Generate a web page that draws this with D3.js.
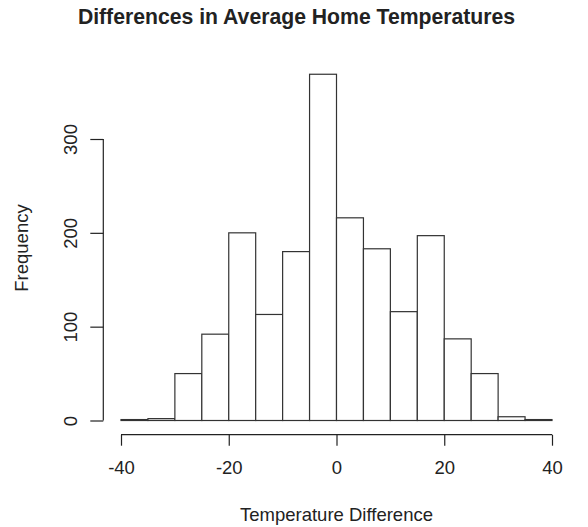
<!DOCTYPE html>
<html>
<head>
<meta charset="utf-8">
<script src="https://cdn.jsdelivr.net/npm/d3@7"></script>
<style>
  body { margin: 0; background: #fff; }
  text { font-family: "Liberation Sans", Arial, sans-serif; fill: #222; }
</style>
</head>
<body>
<div id="chart"></div>
<script>
// histogram data : bin edges (lower bound) and counts
var binStart = [-40, -35, -30, -25, -20, -15, -10, -5, 0, 5, 10, 15, 20, 25, 30, 35];
var counts = [1, 2, 50, 92, 200, 113, 180, 369, 216, 183, 116, 197, 87, 50, 4, 1];
var binWidth = 5;
var xTicks = [-40, -20, 0, 20, 40];
var yTicks = [0, 100, 200, 300];

var width = 588, height = 527;

var svg = d3.select("#chart").append("svg").attr("width", width).attr("height", height);

var x = d3.scaleLinear().domain([-40, 40]).range([121, 552]);
var y = d3.scaleLinear().domain([0, 300]).range([420.5, 139]);

var data = binStart.map(function(d, i) { return {x0: d, x1: d + binWidth, n: counts[i]}; });

// plain hyphen for negatives, like R
var fmt = function(d) { return String(d); };

// bars
svg.append("g").selectAll("rect")
  .data(data)
  .enter().append("rect")
    .attr("x", function(d) { return x(d.x0); })
    .attr("y", function(d) { return y(d.n); })
    .attr("width", function(d) { return x(d.x1) - x(d.x0); })
    .attr("height", function(d) { return y(0) - y(d.n); })
    .attr("fill", "white")
    .attr("stroke", "#333")
    .attr("stroke-width", 1.2);

// x axis
var gx = svg.append("g").attr("transform", "translate(0,434.7)")
  .call(d3.axisBottom(x).tickValues(xTicks).tickSize(11).tickPadding(15).tickFormat(fmt));
gx.select(".domain").attr("d", "M" + x(-40) + ",0H" + x(40)).attr("stroke", "#222").attr("stroke-width", 1.2);
gx.selectAll(".tick line").attr("stroke", "#222").attr("stroke-width", 1.2);
gx.selectAll(".tick text").attr("font-size", "18.5px").attr("font-family", "Liberation Sans, Arial, sans-serif").attr("fill", "#222");

// y axis
var gy = svg.append("g").attr("transform", "translate(103.3,0)")
  .call(d3.axisLeft(y).tickValues(yTicks).tickSize(13).tickPadding(0).tickFormat(fmt));
gy.select(".domain").attr("d", "M0," + y(0) + "V" + y(300)).attr("stroke", "#222").attr("stroke-width", 1.2);
gy.selectAll(".tick line").attr("stroke", "#222").attr("stroke-width", 1.2);
gy.selectAll(".tick text")
  .attr("x", null).attr("dy", null)
  .attr("transform", "translate(-26,0) rotate(-90)")
  .attr("text-anchor", "middle")
  .attr("font-size", "18.5px").attr("font-family", "Liberation Sans, Arial, sans-serif").attr("fill", "#222");

// title + axis labels
svg.append("text").attr("x", 296.5).attr("y", 24).attr("text-anchor", "middle")
  .attr("font-size", "21.2px").attr("font-weight", "bold").attr("fill", "#111")
  .text("Differences in Average Home Temperatures");
svg.append("text").attr("x", 336.5).attr("y", 521).attr("text-anchor", "middle")
  .attr("font-size", "18.5px")
  .text("Temperature Difference");
svg.append("text").attr("transform", "translate(28,248) rotate(-90)").attr("text-anchor", "middle")
  .attr("font-size", "18.5px")
  .text("Frequency");
</script>
</body>
</html>
